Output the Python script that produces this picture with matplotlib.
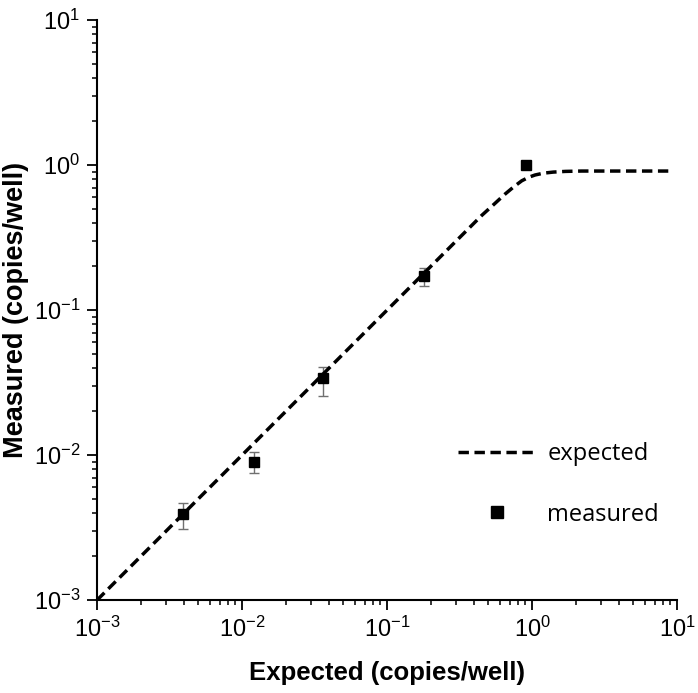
import numpy as np
from matplotlib import pyplot as plt

# expected curve
exp_x = [0.001, 0.01, 0.1, 0.3, 0.45, 0.55, 0.65, 0.75, 0.85, 0.95, 1.05, 1.2, 1.4, 1.7, 2.2, 3.0, 5.0, 8.7]
exp_y = [0.001, 0.01, 0.1, 0.3, 0.45, 0.54, 0.63, 0.71, 0.78, 0.825, 0.855, 0.88, 0.895, 0.905, 0.91, 0.91, 0.91, 0.91]

# measured points
meas_x = [0.0039, 0.012, 0.036, 0.18, 0.906]
meas_y = [0.0039, 0.0090, 0.0338, 0.171, 1.0]
err_lo = [0.00308, 0.00755, 0.0257, 0.147, 1.0]
err_hi = [0.00469, 0.01045, 0.0407, 0.194, 1.0]

plt.rcParams['font.family'] = ['Liberation Sans', 'DejaVu Sans']
plt.rcParams['mathtext.fontset'] = 'custom'
plt.rcParams['mathtext.rm'] = 'Liberation Sans'
plt.rcParams['mathtext.it'] = 'Liberation Sans:italic'
plt.rcParams['mathtext.bf'] = 'Liberation Sans:bold'
plt.rcParams['mathtext.default'] = 'regular'

fig = plt.figure(figsize=(6.98, 6.93), dpi=100)
ax = fig.add_axes([0.139, 0.134, 0.831, 0.837])

yerr = [np.array(meas_y) - np.array(err_lo), np.array(err_hi) - np.array(meas_y)]
ax.errorbar(meas_x, meas_y, yerr=yerr, fmt='none', ecolor='#707070', elinewidth=1.0,
            capsize=3.3, capthick=1.0, zorder=2)
line, = ax.plot(exp_x, exp_y, color='black', lw=2.5, dashes=(3, 1.6), label='expected', zorder=3)
pts, = ax.plot(meas_x, meas_y, 's', color='black', markersize=7.5, label='measured', zorder=4)

ax.set_xscale('log')
ax.set_yscale('log')
ax.set_xlim(1e-3, 1e1)
ax.set_ylim(1e-3, 1e1)
ax.set_xticks([1e-3, 1e-2, 1e-1, 1e0, 1e1])
ax.set_yticks([1e-3, 1e-2, 1e-1, 1e0, 1e1])

for s in ['top', 'right']:
    ax.spines[s].set_visible(False)
for s in ['left', 'bottom']:
    ax.spines[s].set_linewidth(1.5)

ax.tick_params(which='major', direction='out', length=7, width=1.3, labelsize=17, pad=5)
ax.tick_params(which='minor', direction='out', length=3.8, width=1.1)

ax.set_xlabel('Expected (copies/well)', fontsize=18.5, fontweight='bold')
ax.set_ylabel('Measured (copies/well)', fontsize=19.5, fontweight='bold')
ax.xaxis.set_label_coords(0.5, -0.105)
ax.yaxis.set_label_coords(-0.118, 0.5)

ax.legend(handles=[line, pts], loc='lower left', bbox_to_anchor=(0.585, 0.09), frameon=False,
          handlelength=3.35, handletextpad=0.45, labelspacing=1.55, markerscale=1.2,
          prop={'family': ['Open Sans', 'DejaVu Sans'], 'size': 17})

fig.savefig('out.png', dpi=100)
